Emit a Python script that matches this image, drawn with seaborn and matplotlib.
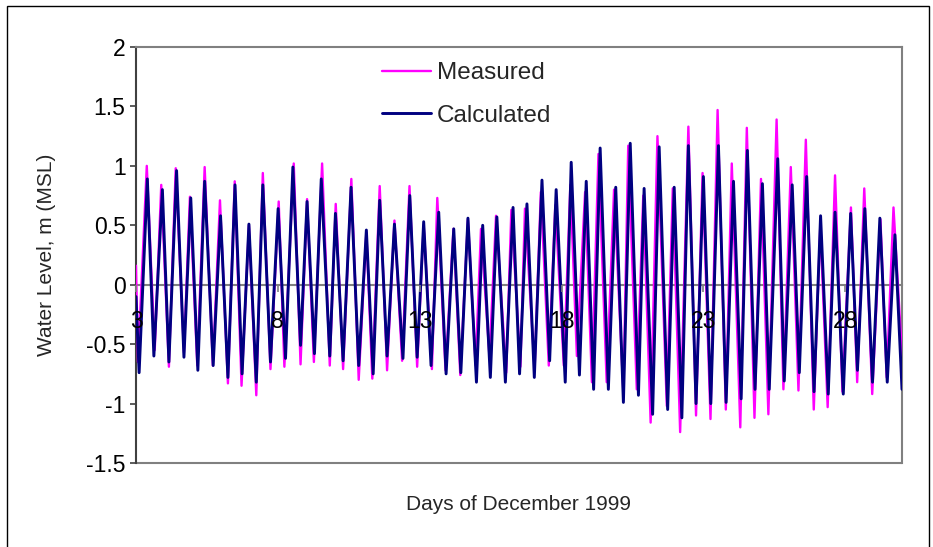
import matplotlib
matplotlib.use("Agg")
import matplotlib.pyplot as plt
import pandas as pd
import seaborn as sns
from matplotlib.lines import Line2D
from matplotlib.patches import Rectangle

# Turning points (high / low water) of the tide record, December 1999
meas_day = [3.00, 3.07, 3.38, 3.66, 3.89, 4.16, 4.40, 4.69, 4.90, 5.16, 5.42, 5.71, 5.96, 6.24,
            6.48, 6.72, 6.98, 7.24, 7.47, 7.74, 8.03, 8.23, 8.56, 8.80, 9.03, 9.27, 9.56, 9.83,
            10.04, 10.30, 10.59, 10.85, 11.12, 11.33, 11.59, 11.85, 12.11, 12.38, 12.64, 12.91,
            13.14, 13.43, 13.62, 13.91, 14.19, 14.43, 14.70, 14.97, 15.16, 15.46, 15.69, 16.05,
            16.23, 16.55, 16.71, 17.05, 17.27, 17.55, 17.78, 18.08, 18.31, 18.54, 18.83, 19.07,
            19.30, 19.59, 19.85, 20.18, 20.35, 20.65, 20.88, 21.14, 21.38, 21.71, 21.92, 22.18,
            22.47, 22.74, 22.97, 23.25, 23.50, 23.79, 24.00, 24.30, 24.53, 24.80, 25.03, 25.29,
            25.58, 25.82, 26.08, 26.35, 26.61, 26.89, 27.12, 27.38, 27.64, 27.90, 28.20, 28.42,
            28.67, 28.95, 29.24, 29.46, 29.70, 30.00]
meas_level = [0.16, -0.65, 1.00, -0.55, 0.84, -0.69, 0.98, -0.57, 0.74, -0.68, 0.99, -0.68, 0.71, -0.83,
              0.87, -0.85, 0.50, -0.93, 0.94, -0.71, 0.70, -0.69, 1.02, -0.67, 0.72, -0.65, 1.02, -0.68,
              0.68, -0.71, 0.89, -0.80, 0.44, -0.79, 0.83, -0.72, 0.54, -0.64, 0.83, -0.69,
              0.50, -0.71, 0.73, -0.72, 0.47, -0.76, 0.55, -0.68, 0.47, -0.61, 0.58, -0.74,
              0.63, -0.69, 0.64, -0.71, 0.78, -0.68, 0.67, -0.68, 0.84, -0.60, 0.78, -0.82,
              1.10, -0.82, 0.80, -0.92, 1.17, -0.88, 0.75, -1.16, 1.25, -1.02, 0.81, -1.24,
              1.33, -1.10, 0.94, -1.13, 1.47, -1.05, 1.02, -1.20, 1.32, -1.12, 0.89, -1.09,
              1.39, -0.88, 0.99, -0.89, 1.22, -1.05, 0.50, -1.03, 0.92, -0.90, 0.65, -0.82,
              0.81, -0.92, 0.55, -0.78, 0.65, -0.60]

calc_day = [3.00, 3.11, 3.40, 3.63, 3.93, 4.16, 4.43, 4.69, 4.93, 5.18, 5.42, 5.72, 5.98, 6.24,
            6.49, 6.74, 6.98, 7.24, 7.47, 7.74, 8.01, 8.27, 8.53, 8.80, 9.03, 9.29, 9.53, 9.83,
            10.03, 10.30, 10.58, 10.85, 11.12, 11.36, 11.59, 11.85, 12.11, 12.41, 12.65, 12.91,
            13.14, 13.40, 13.67, 13.93, 14.20, 14.45, 14.70, 15.00, 15.22, 15.49, 15.72, 16.02,
            16.29, 16.52, 16.78, 17.04, 17.31, 17.58, 17.81, 18.13, 18.34, 18.63, 18.87, 19.13,
            19.36, 19.65, 19.91, 20.18, 20.42, 20.71, 20.91, 21.21, 21.44, 21.74, 21.97, 22.24,
            22.47, 22.74, 23.00, 23.26, 23.53, 23.80, 24.06, 24.33, 24.55, 24.82, 25.08, 25.32,
            25.62, 25.85, 26.13, 26.38, 26.64, 26.90, 27.13, 27.40, 27.64, 27.93, 28.19, 28.43,
            28.69, 28.96, 29.22, 29.48, 29.75, 30.00]
calc_level = [-0.10, -0.74, 0.89, -0.60, 0.80, -0.65, 0.96, -0.61, 0.73, -0.72, 0.87, -0.68, 0.58, -0.78,
              0.84, -0.75, 0.51, -0.82, 0.84, -0.65, 0.64, -0.62, 0.99, -0.51, 0.70, -0.58, 0.89, -0.60,
              0.60, -0.64, 0.82, -0.68, 0.46, -0.75, 0.71, -0.60, 0.51, -0.62, 0.75, -0.61,
              0.53, -0.68, 0.61, -0.75, 0.47, -0.74, 0.56, -0.82, 0.50, -0.78, 0.57, -0.82,
              0.65, -0.75, 0.68, -0.78, 0.88, -0.64, 0.80, -0.82, 1.03, -0.76, 0.87, -0.88,
              1.15, -0.88, 0.82, -0.99, 1.19, -0.93, 0.81, -1.09, 1.16, -1.05, 0.82, -1.12,
              1.17, -1.00, 0.91, -1.00, 1.17, -0.99, 0.87, -0.96, 1.13, -0.88, 0.85, -0.88,
              1.06, -0.81, 0.84, -0.74, 0.91, -0.90, 0.58, -0.92, 0.61, -0.92, 0.60, -0.72,
              0.64, -0.82, 0.56, -0.82, 0.42, -0.88]

x_ticks = [3, 8, 13, 18, 23, 28]
y_ticks = [-1.5, -1, -0.5, 0, 0.5, 1, 1.5, 2]
y_tick_labels = ["-1.5", "-1", "-0.5", "0", "0.5", "1", "1.5", "2"]

sns.set_theme(style="white")
plt.rcParams["font.family"] = ["Liberation Sans", "DejaVu Sans"]
plt.rcParams["axes.unicode_minus"] = False

W, H = 933, 547
fig = plt.figure(figsize=(W / 100, H / 100), dpi=100)
left, right, top, bottom = 136, 902, 47, 463
ax = fig.add_axes([left / W, 1 - bottom / H, (right - left) / W, (bottom - top) / H])

measured = pd.DataFrame({"day": meas_day, "level": meas_level})
calculated = pd.DataFrame({"day": calc_day, "level": calc_level})

sns.lineplot(data=measured, x="day", y="level", color="#FF00FF", linewidth=1.7,
             estimator=None, sort=False, ax=ax, label="Measured", zorder=3)
sns.lineplot(data=calculated, x="day", y="level", color="#000080", linewidth=2.1,
             estimator=None, sort=False, ax=ax, label="Calculated", zorder=4)

ax.set_xlim(3, 30)
ax.set_ylim(-1.5, 2)
ax.set_xticks(x_ticks)
ax.set_xticklabels([str(t) for t in x_ticks])
ax.set_yticks(y_ticks)
ax.set_yticklabels(y_tick_labels)

# Plot-area frame, with the category axis running along zero
for side in ("top", "right"):
    ax.spines[side].set_color("#808080")
    ax.spines[side].set_linewidth(1.5)
ax.spines["left"].set_color("#404040")
ax.spines["left"].set_linewidth(1.5)
ax.spines["bottom"].set_position(("data", 0))
ax.spines["bottom"].set_color("#808080")
ax.spines["bottom"].set_linewidth(1.5)
ax.spines["bottom"].set_zorder(2)
ax.add_line(Line2D([0, 1], [0, 0], transform=ax.transAxes, color="#808080",
                   linewidth=1.5, clip_on=False, zorder=2))

ax.tick_params(axis="x", direction="out", length=5, width=1.2, color="#808080",
               pad=13, bottom=True, labelsize=16.5, labelcolor="black")
ax.tick_params(axis="y", direction="out", length=4.5, width=1.2, color="#404040",
               pad=3, left=True, labelsize=16.5, labelcolor="black")
ax.xaxis.set_zorder(5)

ax.set_xlabel("")
ax.set_ylabel("")
fig.text(519 / W, 1 - 505 / H, "Days of December 1999", fontsize=15,
         ha="center", va="center")
fig.text(47 / W, 1 - 255 / H, "Water Level, m (MSL)", fontsize=15,
         ha="center", va="center", rotation=90)

ax.legend(loc="upper left", bbox_to_anchor=(382 / W, 1 - 62 / H),
          bbox_transform=fig.transFigure, frameon=False, fontsize=17.5,
          handlelength=2.0, handletextpad=0.25, borderpad=0, borderaxespad=0,
          labelspacing=0.85)

# Chart-area border
fig.patches.append(Rectangle((7 / W, -0.05), (929 - 7) / W, 1 - 6 / H + 0.05,
                             transform=fig.transFigure, fill=False,
                             edgecolor="black", linewidth=1.0))

fig.savefig("out.png", dpi=100)
